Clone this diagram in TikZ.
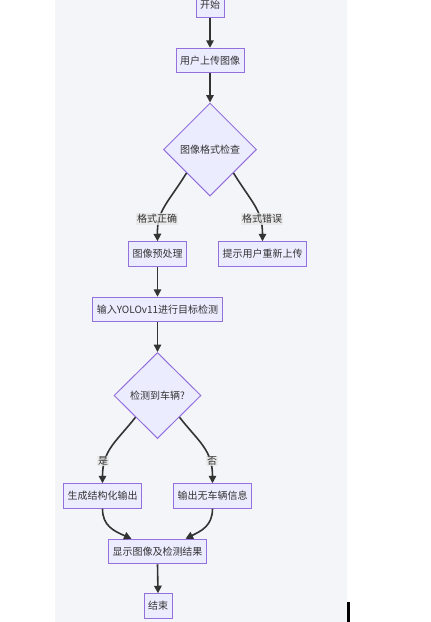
\documentclass[tikz,border=0pt]{standalone}
\usepackage{fontspec}
\newfontfamily\cjk{Noto Sans CJK SC}
\usetikzlibrary{shapes.geometric,arrows.meta,calc}
\definecolor{nodefill}{HTML}{ECECFF}
\definecolor{nodeline}{HTML}{9370DB}
\definecolor{edgec}{HTML}{333333}
\definecolor{bgc}{HTML}{F4F5F8}
\definecolor{lblbg}{HTML}{E8E8E8}
\begin{document}
\begin{tikzpicture}[x=1pt,y=-1pt,
 txt/.style={font=\cjk\fontsize{10}{12}\selectfont,text=edgec},
 box/.style={txt,draw=nodeline,fill=nodefill,line width=1pt,inner xsep=4pt,inner ysep=0pt,minimum height=24.5pt},
 dec/.style={txt,diamond,draw=nodeline,fill=nodefill,line width=1pt,inner sep=0pt,aspect=1},
 lbl/.style={txt,fill=lblbg,fill opacity=0.8,text opacity=1,inner sep=1pt},
 arr/.style={draw=edgec,line width=1.6pt,-{Triangle[length=7.5pt,width=7.5pt]}}]
\useasboundingbox (0,0) rectangle (431,622);
\fill[bgc] (55,0) rectangle (347,622);
\fill[black] (347,602) rectangle (349.5,622);
\node[box] (start) at (210,5) {开始};
\node[box] (upload) at (210,60.5) {用户上传图像};
\node[dec,minimum width=93pt,minimum height=93pt] (chk) at (210,149.5) {图像格式检查};
\node[box] (pre) at (157.5,254) {图像预处理};
\node[box] (retry) at (262.5,254) {提示用户重新上传};
\node[box] (yolo) at (157.5,309.5) {输入YOLOv11进行目标检测};
\node[dec,minimum width=87pt,minimum height=86pt] (det) at (157.5,395.5) {检测到车辆?};
\node[box] (gen) at (102.5,496) {生成结构化输出};
\node[box] (none) at (212.5,496) {输出无车辆信息};
\node[box] (show) at (157.5,551.5) {显示图像及检测结果};
\node[box] (fin) at (158,606) {结束};
\draw[arr] (start.south) -- (upload.north);
\draw[arr] (upload.south) -- (chk.north);
\draw[arr] (chk.south west) .. controls (168,203) and (157,210) .. (pre.north);
\draw[arr] (chk.south east) .. controls (252,203) and (262.5,210) .. (retry.north);
\draw[arr] (pre.south) -- (yolo.north);
\draw[arr] (yolo.south) -- (det.north);
\draw[arr] (det.south west) .. controls (116,442) and (102.5,450) .. (gen.north);
\draw[arr] (det.south east) .. controls (199,442) and (212.5,450) .. (none.north);
\draw[arr] (gen.south) .. controls (102.5,526) and (114,531) .. ([xshift=-26pt]show.north);
\draw[arr] (none.south) .. controls (212.5,526) and (201,531) .. ([xshift=28pt]show.north);
\draw[arr] (show.south) -- (fin.north);
\node[lbl] (l1) at (157,219) {格式正确};
\node[lbl] (l2) at (262,219) {格式错误};
\node[lbl] (l3) at (103,461) {是};
\node[lbl] (l4) at (212,461) {否};
\end{tikzpicture}
\end{document}
